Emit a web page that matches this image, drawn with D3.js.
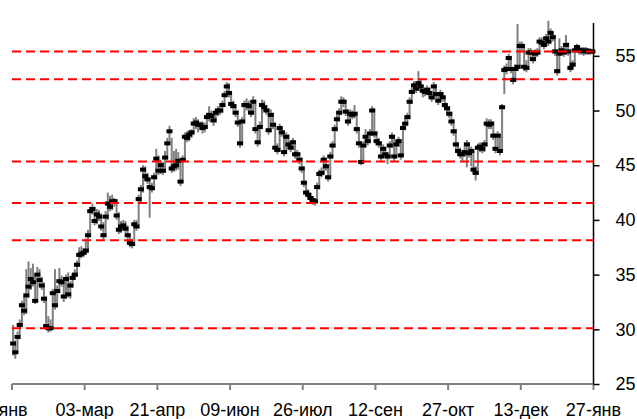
<!DOCTYPE html>
<html><head><meta charset="utf-8">
<script src="https://cdn.jsdelivr.net/npm/d3@7"></script>
<style>html,body{margin:0;padding:0;background:#fff;overflow:hidden}svg{display:block}</style>
</head><body>
<svg id="chart" width="637" height="419"></svg>
<script>
const closeVals = [28.7,27.9,29.3,30.4,32.2,31.7,33.1,33.9,34.6,34.3,32.6,35.0,34.5,34.0,32.8,30.3,30.1,30.1,33.3,32.2,
33.5,34.4,34.3,33.0,34.6,33.2,34.0,34.7,35.0,35.9,36.8,36.9,37.0,37.2,38.6,40.8,41.0,39.9,40.5,40.3,
39.4,38.6,40.3,41.5,41.2,41.7,41.7,40.4,39.1,39.4,39.5,39.2,38.6,37.9,37.8,39.6,39.4,41.9,42.8,44.6,
44.0,43.7,43.0,42.9,43.9,45.6,44.5,45.0,44.5,45.7,47.0,48.1,44.7,44.9,45.0,45.4,43.5,45.5,47.6,47.5,
47.8,48.0,48.8,48.9,48.7,48.7,48.4,48.5,49.4,49.6,49.5,49.1,49.8,50.0,50.0,50.5,51.4,52.2,51.6,50.6,
50.4,49.8,48.9,47.0,49.0,50.5,50.5,50.4,49.8,50.8,48.3,47.1,48.5,50.5,50.3,50.0,48.2,49.6,48.7,46.6,
46.4,48.4,48.0,46.2,47.6,46.9,46.6,47.1,46.0,46.0,45.5,44.7,43.4,42.5,42.3,42.0,41.8,41.7,43.0,44.2,
44.3,45.5,44.9,43.9,45.8,46.8,48.3,49.2,49.8,50.8,50.8,49.9,49.0,49.7,49.6,49.7,48.3,47.0,45.3,46.8,
47.6,47.2,47.9,50.0,47.9,47.2,47.0,45.8,46.5,46.0,45.8,46.8,47.6,45.8,46.9,47.2,45.9,48.4,48.8,49.4,
50.8,51.7,52.3,52.0,52.5,52.2,51.8,51.7,51.9,51.6,51.2,52.2,51.5,50.9,51.5,51.2,50.5,50.2,49.7,49.0,
48.1,46.9,46.3,46.0,46.0,46.2,46.9,46.1,46.3,44.6,44.3,46.6,46.7,46.5,46.9,48.8,48.7,48.8,47.7,46.5,
47.7,46.3,50.3,53.7,53.8,54.8,53.8,52.8,53.8,54.0,55.9,55.9,54.0,53.9,55.3,55.3,54.7,55.2,55.3,56.3,
56.2,56.0,56.6,56.3,57.1,56.7,55.4,53.6,55.2,55.5,55.3,56.0,55.4,53.9,54.2,55.5,55.8,55.5,55.5,55.4,
55.5,55.4,55.4,55.4];
const lowVals = [27.6,27.3,27.8,29.1,30.2,31.3,31.4,32.9,33.6,33.9,32.3,32.5,34.1,33.6,32.4,30.0,29.7,29.8,30.0,31.8,
32.0,33.3,33.9,32.5,32.8,32.9,32.8,33.8,34.5,34.8,35.7,36.5,36.6,36.8,37.0,38.4,40.5,39.5,39.6,39.9,
39.0,38.2,38.4,40.0,40.8,40.9,41.2,40.0,38.7,38.8,39.0,38.8,38.2,37.5,37.4,37.6,39.0,39.2,41.6,42.5,
43.6,43.3,40.2,42.5,42.7,43.7,44.1,44.2,44.1,44.3,45.5,46.8,44.3,44.4,44.5,44.6,43.1,43.4,45.3,47.1,
47.2,47.5,47.8,48.3,48.0,48.2,47.9,48.0,48.3,49.0,48.9,48.6,48.9,49.5,49.6,49.8,50.3,51.2,51.2,50.2,
50.0,49.4,48.5,46.6,46.8,48.8,50.0,49.9,49.4,49.6,47.9,46.7,46.9,48.3,49.9,49.6,47.8,48.0,48.3,46.2,
46.0,46.2,47.6,45.8,46.0,46.5,46.2,46.4,45.6,45.5,45.1,44.3,43.0,42.1,41.9,41.6,41.4,41.3,41.5,42.8,
43.9,44.1,44.5,43.5,43.7,45.6,46.6,48.1,49.0,49.6,50.3,49.5,48.6,48.8,49.2,49.3,47.9,46.6,45.0,45.2,
46.6,46.8,47.0,47.7,47.5,46.8,46.6,45.4,45.6,45.6,45.1,45.6,46.6,45.4,45.6,46.7,45.5,45.7,48.2,48.6,
49.2,50.6,51.5,51.6,51.8,51.7,51.2,51.3,51.4,51.2,50.8,51.0,51.1,50.5,50.7,50.8,50.1,49.8,49.3,48.6,
47.7,46.5,45.9,45.6,45.4,45.8,44.8,45.7,44.9,44.2,43.6,44.1,46.2,46.1,46.2,46.7,48.3,48.3,47.3,46.1,
46.3,45.9,46.2,51.5,53.3,53.6,53.4,52.4,52.6,53.6,53.8,55.5,53.6,53.5,53.7,54.9,54.3,54.5,54.9,55.1,
55.8,55.6,55.8,55.9,56.1,56.3,55.0,53.2,53.4,55.0,54.9,55.1,55.0,53.5,53.7,54.0,55.3,55.1,55.1,55.0,
55.1,55.1,55.1,55.2];
const highVals = [30.4,29.0,29.8,30.9,32.6,33.0,35.5,36.2,35.6,36.0,35.0,35.7,35.5,34.8,34.3,33.0,31.2,30.9,33.7,35.5,
34.0,35.6,34.9,34.6,35.0,35.2,34.4,35.1,35.5,36.3,37.5,37.6,37.4,38.3,39.1,41.2,41.5,41.2,41.0,40.9,
40.6,39.8,40.8,42.5,42.2,42.3,42.0,41.9,40.7,39.9,40.0,39.9,39.5,38.8,38.3,40.0,40.0,42.3,43.2,45.0,
44.9,44.3,43.9,43.4,44.3,46.5,45.9,45.5,45.3,46.3,47.5,48.6,47.5,46.3,46.5,46.2,45.6,45.9,48.0,48.1,
48.2,48.3,49.3,49.4,49.2,49.0,49.0,48.9,49.8,50.4,50.0,49.7,50.2,50.4,50.3,50.9,51.8,52.6,52.5,51.8,
50.9,50.6,50.0,49.1,49.4,50.9,51.1,50.9,50.6,51.3,51.0,48.5,49.0,51.0,50.9,50.5,50.2,50.1,49.8,48.9,
47.0,48.8,48.6,48.2,48.0,47.8,47.2,47.5,47.3,46.4,46.2,45.7,44.9,43.6,42.8,42.5,42.2,42.0,43.4,44.6,
44.8,45.9,45.7,45.1,46.2,47.2,48.7,49.6,50.2,51.3,51.2,51.0,50.1,50.1,50.0,50.5,49.9,48.5,47.2,47.2,
48.3,47.9,48.3,50.4,50.2,48.1,47.5,47.2,46.9,46.7,46.2,47.2,48.0,47.8,47.3,47.6,47.4,48.8,49.3,49.8,
51.2,52.1,52.7,52.5,53.6,52.8,52.4,52.1,52.3,52.1,51.8,52.6,52.4,51.7,51.9,51.7,51.4,50.7,50.4,49.9,
49.2,48.3,47.1,46.6,46.4,46.7,47.3,47.1,46.7,46.5,44.9,47.0,47.1,47.0,47.3,49.3,49.2,49.2,49.0,47.9,
48.1,47.9,50.6,54.1,54.3,55.2,55.0,54.0,54.2,57.9,56.3,56.3,56.1,54.6,55.7,55.7,55.5,55.6,55.7,56.7,
56.7,56.5,57.0,58.2,57.5,57.2,56.9,55.6,56.6,55.9,55.8,56.9,56.2,55.6,54.6,55.9,56.1,55.9,55.8,55.8,
55.8,55.7,55.7,55.6];
const tickLabels = ["14-янв","03-мар","21-апр","09-июн","26-июл","12-сен","27-окт","13-дек","27-янв"];
const yTicks = [25,30,35,40,45,50,55];
const levelLines = [55.4,52.85,45.35,41.55,38.15,30.1];
const pointsPerTick = 33;

(function () {
const svg = d3.select("#chart");
const mLeft = 12, mRight = 593.5, mTop = 23, mBottom = 384;
const n = closeVals.length;
const idx = d3.range(n);

const x = d3.scaleBand().domain(idx).range([mLeft, mRight]).paddingInner(0).paddingOuter(0);
const y = d3.scaleLinear().domain([25, 58]).range([mBottom, mTop]);

const tickIdx = tickLabels.map((_, k) => k * pointsPerTick);
const xPos = k => k < n ? x(k) : mRight;
const gx = svg.append("g");
gx.append("line").attr("x1", mLeft).attr("x2", mRight).attr("y1", mBottom).attr("y2", mBottom)
  .attr("stroke", "#808080").attr("stroke-width", 2);
gx.selectAll("line.t").data(tickIdx).join("line").attr("class","t")
  .attr("x1", d => xPos(d)).attr("x2", d => xPos(d)).attr("y1", mBottom).attr("y2", mBottom + 6)
  .attr("stroke", "#808080").attr("stroke-width", 2);
gx.selectAll("text").data(tickLabels).join("text")
  .attr("x", (d, k) => xPos(tickIdx[k]) - (k === 0 ? 12 : 0)).attr("y", 416)
  .attr("text-anchor", "middle").attr("font-family", "Liberation Sans, Arial, sans-serif")
  .attr("font-size", 18).attr("fill", "#000").text(d => d);

const yAxis = d3.axisRight(y).tickValues(yTicks).tickSize(6).tickPadding(16).tickFormat(d3.format("d"));
const gy = svg.append("g").attr("transform", `translate(${mRight},0)`).call(yAxis);
gy.select(".domain").attr("stroke", "#000").attr("stroke-width", 1.5).attr("d", `M0,${mTop}V${mBottom}`);
gy.selectAll(".tick line").attr("stroke", "#000").attr("stroke-width", 1.5);
gy.selectAll(".tick text").attr("font-family", "Liberation Sans, Arial, sans-serif")
  .attr("font-size", 18).attr("fill", "#000");

const cx = i => x(i) + x.bandwidth() / 2;
svg.append("g").selectAll("line").data(idx).join("line")
  .attr("x1", cx).attr("x2", cx)
  .attr("y1", i => y(lowVals[i])).attr("y2", i => y(highVals[i]))
  .attr("stroke", "#808080").attr("stroke-width", 2);

svg.append("g").selectAll("rect").data(idx).join("rect")
  .attr("x", i => cx(i) - 3).attr("y", i => y(closeVals[i]) - 2)
  .attr("width", 6).attr("height", 4).attr("fill", "#000");

svg.append("g").selectAll("line").data(levelLines).join("line")
  .attr("x1", mLeft).attr("x2", mRight).attr("y1", d => y(d)).attr("y2", d => y(d))
  .attr("stroke", "#ff0000").attr("stroke-width", 2).attr("stroke-dasharray", "9,5");
})();
</script>
</body></html>
